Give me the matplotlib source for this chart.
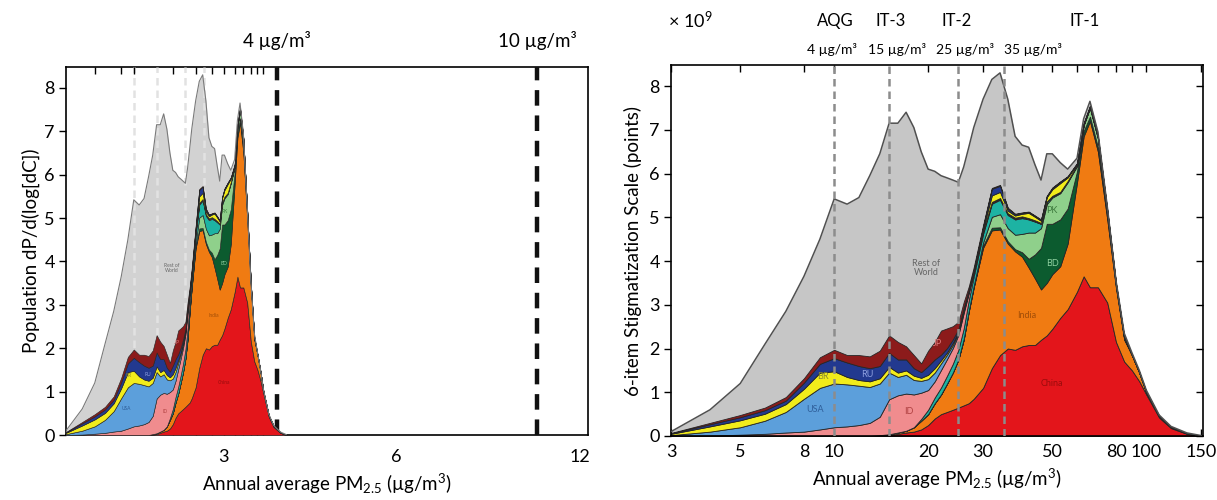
import numpy as np
import matplotlib
matplotlib.use("Agg")
import matplotlib.pyplot as plt

plt.rcParams['font.family'] = ['Lato', 'DejaVu Sans']
plt.rcParams['mathtext.fontset'] = 'custom'
plt.rcParams['mathtext.rm'] = 'Lato'
plt.rcParams['mathtext.it'] = 'Lato:italic'
plt.rcParams['mathtext.bf'] = 'Lato:bold'

# ---- data (population density, x 10^9, by annual PM2.5) ----
pm = [3, 4, 5, 6, 7, 8, 9, 10, 11, 12, 13, 14, 15, 16, 17, 18, 19, 20, 21, 22, 23, 24, 25, 26, 27, 28,
      30, 32, 34, 36, 38, 40, 42, 44, 46, 48, 50, 53, 56, 60, 63, 66, 70, 75, 80, 85, 90, 95, 100,
      110, 120, 135, 150]

china = [0] * 11 + [.01, .02, .05, .08, .1, .15, .25, .4, .5, .55, .6, .65, .7, .75, .85,
                    1.1, 1.55, 1.85, 2.0, 1.97, 2.05, 2.08, 2.08, 2.2, 2.3, 2.45, 2.7, 2.9, 3.3, 3.65, 3.4,
                    3.4, 3.05, 2.15, 1.7, 1.5, 1.25, .95, .42, .18, .05, 0]
india = [0] * 11 + [.01, .02, .03, .04, .1, .2, .25, .35, .45, .65, .85, 1.1, 1.5, 2.1, 2.55,
                    3.2, 3.15, 2.87, 2.4, 2.25, 2.05, 1.77, 1.52, 1.15, 1.2, 1.25, 1.18, 1.5, 2.5, 3.2, 3.8,
                    3.1, 1.9, 1.23, .5, .35, .2, .05, .03, .02, .01, 0]
bangladesh = [0] * 26 + [.05, .06, .05, .05, .05, .1, .2, .55, .95, 1.35, 1.15, 1.07, .8, .25, .12, .1,
                         .1, .08, .04, .03, 0, 0, 0, 0, 0, 0, 0]
pakistan = [0] * 23 + [.02, .02, .03, .07, .25, .3, .3, .33, .42, .6, .5, .45, .45, .6, .6, .6, .12, .13,
                       .2, .2, .1, .03] + [0] * 8
other_asia = [0] * 16 + [.04, .1, .13, .16, .18, .2, .22, .24, .24, .22, .2, .3, .33, .3, .35, .36, .3,
                         .25, .1, .05, .03, .02, .02, .02, .01, .01, .01] + [0] * 10
indonesia = [0, .01, .03, .05, .08, .1, .15, .2, .22, .25, .3, .42, .8, .85, .85, .75, .6, .45, .37, .4,
             .38, .36, .34, .35, .16, .08, .05, .02, .02, .02, .02, .02, .01, .01] + [0] * 19
usa = [.02, .09, .17, .3, .47, .75, .95, 1.0, .96, .9, .82, .76, .61, .42, .43, .33, .27, .25, .2, .15,
       .1, .07, .05, .05, .03, .02] + [.02] * 9 + [.01] * 11 + [0] * 7
brazil = [.03, .12, .16, .16, .18, .23, .35, .28, .17, .13, .13, .12, .13, .1, .1, .1, .07, .1, .1, .07,
          .05, .05, .03, .03, .02, .02, .05, .15, .14, .06, .05, .06, .12, .08, .05, .1, .15, .2, .08,
          .02] + [.01] * 6 + [0] * 7
russia = [.01, .05, .07, .08, .08, .14, .2, .3, .33, .32, .3, .28, .32, .3, .25, .17, .13, .2, .2, .13,
          .1, .08, .05, .04, .02, .02, .04, .15, .14, .05, .03, .02, .02, .02, .02, .02, .03, .03, .02,
          .01] + [.01] * 6 + [0] * 7
japan = [.01, .03, .05, .06, .08, .1, .15, .19, .17, .25, .27, .35, .4, .4, .3, .3, .2, .35, .4, .55,
         .45, .3, .17, .13, .08, .07, .04, .02, .02, .02, .01, .01, .01, .01, .01, .01, .01, .01, .01,
         .01] + [.01] * 6 + [0] * 7
world_total = [.1, .6, 1.2, 2.1, 2.85, 3.65, 4.5, 5.42, 5.3, 5.45, 5.95, 6.45, 7.15, 7.15, 7.4, 7.05, 6.5,
               6.1, 6.05, 5.95, 5.9, 5.85, 5.8, 6.15, 6.6, 7.05, 7.7, 8.15, 8.3, 7.7, 6.85, 6.65, 6.6,
               6.2, 5.85, 6.45, 6.45, 6.25, 6.1, 6.35, 7.25, 7.65, 6.95, 5.25, 3.55, 2.35, 1.9, 1.5,
               1.05, .48, .22, .07, .01]

layers = [china, india, bangladesh, pakistan, other_asia, indonesia, usa, brazil, russia, japan]
layer_colors = ['#e3151b', '#f07b12', '#0c5b2f', '#8fd08b', '#1db3a3', '#f08c8e',
                '#5c9fdb', '#f2ec1b', '#22398f', '#8c1b1b']

# WHO guideline / interim targets
guide_pm = [10, 15, 25, 35]
guide_names = ['AQG', 'IT-3', 'IT-2', 'IT-1']
guide_values = ['4 µg/m³', '15 µg/m³', '25 µg/m³', '35 µg/m³']

# labels inside the areas
area_labels = ['USA', 'BR', 'RU', 'ID', 'JP', 'Rest of\nWorld', 'India', 'China', 'BD', 'PK']
area_x = [8.7, 9.2, 12.8, 17.3, 21.4, 19.7, 41.3, 50, 50, 50]
area_y = [0.6, 1.36, 1.4, 0.55, 2.12, 3.85, 2.75, 1.2, 3.95, 5.15]
area_col = ['#2f5f9a', '#8a8a30', '#8ea0e0', '#b04040', '#e08080', '#666666', '#a24e08',
            '#9a0c0c', '#8fd0a0', '#3d7a3d']

# left panel: compressed copy, with its own axis
left_ticks = [3, 6, 12]
left_limits = [4, 10]
left_limit_names = ['4 µg/m³', '10 µg/m³']

W, H = 1217, 500
fig = plt.figure(figsize=(W / 100, H / 100), dpi=100)


def box(x0, y0, x1, y1):
    return [x0 / W, 1 - y1 / H, (x1 - x0) / W, (y1 - y0) / H]


log_ticks_major = [3, 5, 8, 10, 20, 30, 50, 80, 100, 150]
log_ticks_minor = [40, 60, 70, 90]


def draw_stack(ax, grey, outline, guide_col, guide_z, lw, fs):
    ax.fill_between(pm, 0, world_total, color=grey, lw=0, zorder=1)
    ax.plot(pm, world_total, color=outline, lw=lw, zorder=3)
    ax.stackplot(pm, layers, colors=layer_colors, edgecolor='#262626', linewidth=lw * 0.55, zorder=2)
    for g in guide_pm:
        ax.axvline(g, color=guide_col, lw=1.8, dashes=(3, 2), zorder=guide_z)
    for t, x, y, c in zip(area_labels, area_x, area_y, area_col):
        ax.text(x, y, t, fontsize=fs, color=c, ha='center', va='center', zorder=5,
                linespacing=1.0)
    ax.set_xscale('log')
    ax.set_xlim(3, 152)
    ax.set_ylim(0, 8.48)


# ---------------- right panel ----------------
ax = fig.add_axes(box(671, 65, 1203, 436))
draw_stack(ax, '#c6c6c6', '#505050', '#8c8c8c', 4, 1.1, 6.5)
ax.set_xticks(log_ticks_major)
ax.set_xticklabels([str(t) for t in log_ticks_major])
ax.set_xticks(log_ticks_minor, minor=True)
ax.tick_params(axis='x', which='both', direction='in', top=True, length=5, width=1,
               labelsize=13, pad=6)
ax.set_yticks(range(9))
ax.tick_params(axis='y', direction='out', length=5, width=1, labelsize=13, pad=3)
ax.set_xlabel(r'Annual average PM$_{2.5}$ (µg/m$^3$)', fontsize=13.5, labelpad=5)
ax.set_ylabel('6-item Stigmatization Scale (points)', fontsize=13.5, labelpad=5)
for s in ax.spines.values():
    s.set_linewidth(1.2)
axr = ax.twinx()
axr.set_ylim(0, 8.48)
axr.set_yticks(range(9))
axr.tick_params(axis='y', direction='in', length=5, width=1, labelright=False)
axr.spines[:].set_visible(False)

fig.text(690 / W, 1 - 20 / H, r'× 10$^9$', fontsize=13, ha='center', va='center')
for name, x in zip(guide_names, [835, 891, 957, 1085]):
    fig.text(x / W, 1 - 21 / H, name, fontsize=12, ha='center', va='center')
for val, x in zip(guide_values, [832, 897, 965, 1033]):
    fig.text(x / W, 1 - 50 / H, val, fontsize=10, ha='center', va='center')

# ---------------- left panel ----------------
anchor_v = np.log([0.5, 3, 4, 6, 10, 12, 50])
anchor_p = np.array([-113, 223, 277, 396, 537, 580, 917], dtype=float)


def fwd(v):
    v = np.clip(np.asarray(v, dtype=float), 1e-3, None)
    return np.interp(np.log(v), anchor_v, anchor_p)


def inv(p):
    return np.exp(np.interp(np.asarray(p, dtype=float), anchor_p, anchor_v))


axl = fig.add_axes(box(66, 67, 588, 435))
axl.set_xscale('function', functions=(fwd, inv))
axl.set_xlim(1.3, 12.4)
axl.set_ylim(0, 8.48)
axl.set_xticks(left_ticks)
axl.set_xticklabels([str(t) for t in left_ticks])
axl.xaxis.set_minor_locator(plt.NullLocator())
axl.tick_params(axis='x', length=0, labelsize=13, pad=10)
axl.set_yticks(range(9))
axl.tick_params(axis='y', direction='out', length=5, width=1, labelsize=13, pad=3)
for v in left_limits:
    axl.axvline(v, color='#111111', lw=3.2, dashes=(3.5, 2.2), zorder=6)
for v, t in zip(left_limits, left_limit_names):
    axl.text(v, 1.045, t, transform=axl.get_xaxis_transform(), fontsize=13.5,
             ha='center', va='bottom')
axl.set_xlabel(r'Annual average PM$_{2.5}$ (µg/m$^3$)', fontsize=13.5, labelpad=5)
axl.set_ylabel('Population dP/d(log[dC])', fontsize=13.5, labelpad=3)
for s in axl.spines.values():
    s.set_linewidth(1.2)

ins = fig.add_axes(box(66, 67, 287, 435))
ins.patch.set_alpha(0)
draw_stack(ins, '#d2d2d2', '#7a7a7a', '#e2e2e2', 1.5, 0.8, 3.5)
ins.set_xticks([5, 8, 10, 20, 30, 40, 50, 60, 70, 80, 90, 100])
ins.xaxis.set_minor_locator(plt.NullLocator())
ins.tick_params(axis='x', which='both', direction='in', top=True, length=5, width=1,
                labelbottom=False)
ins.set_yticks([])
ins.spines[:].set_visible(False)

fig.savefig('out.png', dpi=100)
